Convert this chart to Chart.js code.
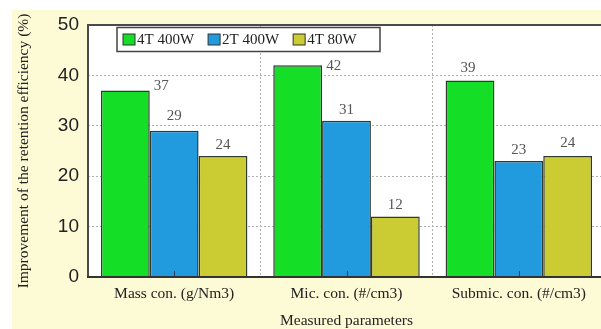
<!DOCTYPE html>
<html>
<head>
<meta charset="utf-8">
<script src="https://cdn.jsdelivr.net/npm/chart.js@4"></script>
<style>
  html, body { margin: 0; padding: 0; background: #fff; overflow: hidden; }
  #wrap { position: relative; width: 610px; height: 329px; }
  #bg { position: absolute; left: 12px; top: 10px; right: 0; bottom: 0; background: #fdfad6; }
  #wrap canvas { position: relative; }
</style>
</head>
<body>
<div id="wrap"><div id="bg"></div><canvas id="chart"></canvas></div>
<script>
// ---- data ----
const categories = ["Mass con. (g/Nm3)", "Mic. con. (#/cm3)", "Submic. con. (#/cm3)"];
const seriesNames = ["4T 400W", "2T 400W", "4T 80W"];
const values4T400 = [37, 42, 39];
const values2T400 = [29, 31, 23];
const values4T80 = [24, 12, 24];
const yTicks = [0, 10, 20, 30, 40, 50];

const colors = ["#14df26", "#229ade", "#cbcb33"];
const serif = "'Liberation Serif', 'Times New Roman', serif";

// white plot area
const plotBg = {
  id: "plotBg",
  beforeDraw(chart) {
    const { ctx, chartArea: a } = chart;
    ctx.save();
    ctx.fillStyle = "#fff";
    ctx.fillRect(a.left, a.top, a.right - a.left, a.bottom - a.top);
    ctx.restore();
  }
};

// frame + value labels + legend box
const extras = {
  id: "extras",
  afterDatasetsDraw(chart, args, opts) {
    const { ctx, chartArea: a } = chart;
    ctx.save();
    // frame
    ctx.strokeStyle = "#4a4a4a";
    ctx.lineWidth = 2;
    ctx.beginPath();
    ctx.moveTo(a.left, a.bottom); ctx.lineTo(a.left, a.top); ctx.lineTo(a.right + 2, a.top);
    ctx.stroke();
    ctx.strokeStyle = "#333";
    ctx.beginPath();
    ctx.moveTo(a.left - 1, a.bottom); ctx.lineTo(a.right + 2, a.bottom);
    ctx.stroke();

    // small inward ticks at category centres
    const xs = chart.scales.x;
    ctx.strokeStyle = "#2a3a5a";
    ctx.lineWidth = 1;
    categories.forEach((c, i) => {
      const px = Math.round(xs.getPixelForValue(i)) + 0.5;
      ctx.beginPath();
      ctx.moveTo(px, a.bottom);
      ctx.lineTo(px, a.bottom - 6);
      ctx.stroke();
    });

    // value labels
    ctx.font = "15px " + serif;
    ctx.fillStyle = "#555";
    ctx.textAlign = "center";
    ctx.textBaseline = "middle";
    chart.data.datasets.forEach((ds, di) => {
      chart.getDatasetMeta(di).data.forEach((bar, i) => {
        const off = opts.offsets[di][i];
        ctx.fillText(String(ds.data[i]), bar.x + off[0], bar.y + off[1]);
      });
    });

    // legend
    const lx = a.left + 29, ly = a.top + 2.5, lw = 263, lh = 24;
    ctx.fillStyle = "#fff";
    ctx.fillRect(lx, ly, lw, lh);
    ctx.strokeStyle = "#444";
    ctx.lineWidth = 1.5;
    ctx.strokeRect(lx, ly, lw, lh);
    ctx.font = "15px " + serif;
    ctx.textAlign = "left";
    let x = lx + 6;
    chart.data.datasets.forEach(ds => {
      ctx.fillStyle = ds.backgroundColor;
      ctx.fillRect(x, ly + 6.5, 12, 11);
      ctx.strokeStyle = "#333";
      ctx.lineWidth = 1;
      ctx.strokeRect(x, ly + 6.5, 12, 11);
      ctx.fillStyle = "#222";
      ctx.fillText(ds.label, x + 14, ly + lh / 2 + 1);
      x += 14 + ctx.measureText(ds.label).width + 14;
    });
    ctx.restore();
  }
};

const dataSeries = [values4T400, values2T400, values4T80];

new Chart(document.getElementById("chart"), {
  type: "bar",
  data: {
    labels: categories,
    datasets: dataSeries.map((vals, i) => ({
      label: seriesNames[i],
      data: vals,
      backgroundColor: colors[i],
      borderColor: "#2f3a2f",
      borderWidth: 1.5,
      categoryPercentage: 0.85,
      barPercentage: 1.0
    }))
  },
  options: {
    responsive: true,
    maintainAspectRatio: false,
    animation: false,
    layout: { padding: { left: 0, top: 25, right: 5, bottom: 0 } },
    plugins: {
      legend: { display: false },
      tooltip: { enabled: false },
      extras: {
        offsets: [
          [[36, -4], [36, 1], [-2, -12]],
          [[0, -15], [0, -11], [0, -11]],
          [[0, -11], [0, -11], [0, -13]]
        ]
      }
    },
    scales: {
      x: {
        grid: {
          offset: true,
          drawTicks: false,
          color: "#b0b0b0",
          lineWidth: 1
        },
        border: { display: false, dash: [2, 2] },
        ticks: { color: "#222", font: { family: serif, size: 15.5 }, padding: 8 },
        title: {
          display: true,
          text: "Measured parameters",
          color: "#222",
          font: { family: serif, size: 15.5, lineHeight: 1 },
          padding: { top: 0, bottom: 0 }
        },
        afterFit(scale) { scale.height = 52; }
      },
      y: {
        min: 0,
        max: 50,
        afterBuildTicks(scale) { scale.ticks = yTicks.map(v => ({ value: v })); },
        grid: {
          drawTicks: false,
          color: c => (c.tick && (c.tick.value === 0 || c.tick.value === 50)) ? "rgba(0,0,0,0)" : "#b0b0b0",
          lineWidth: 1
        },
        border: { display: false, dash: [2, 2] },
        ticks: {
          color: "#222",
          font: { family: "'Liberation Sans', Arial, sans-serif", size: 19 },
          padding: 9
        },
        title: {
          display: true,
          text: "Improvement of the retention efficiency (%)",
          color: "#222",
          font: { family: serif, size: 15.5 },
          padding: { top: 15, bottom: 0 }
        },
        afterFit(scale) { scale.width = 88; }
      }
    }
  },
  plugins: [plotBg, extras]
});
</script>
</body>
</html>
